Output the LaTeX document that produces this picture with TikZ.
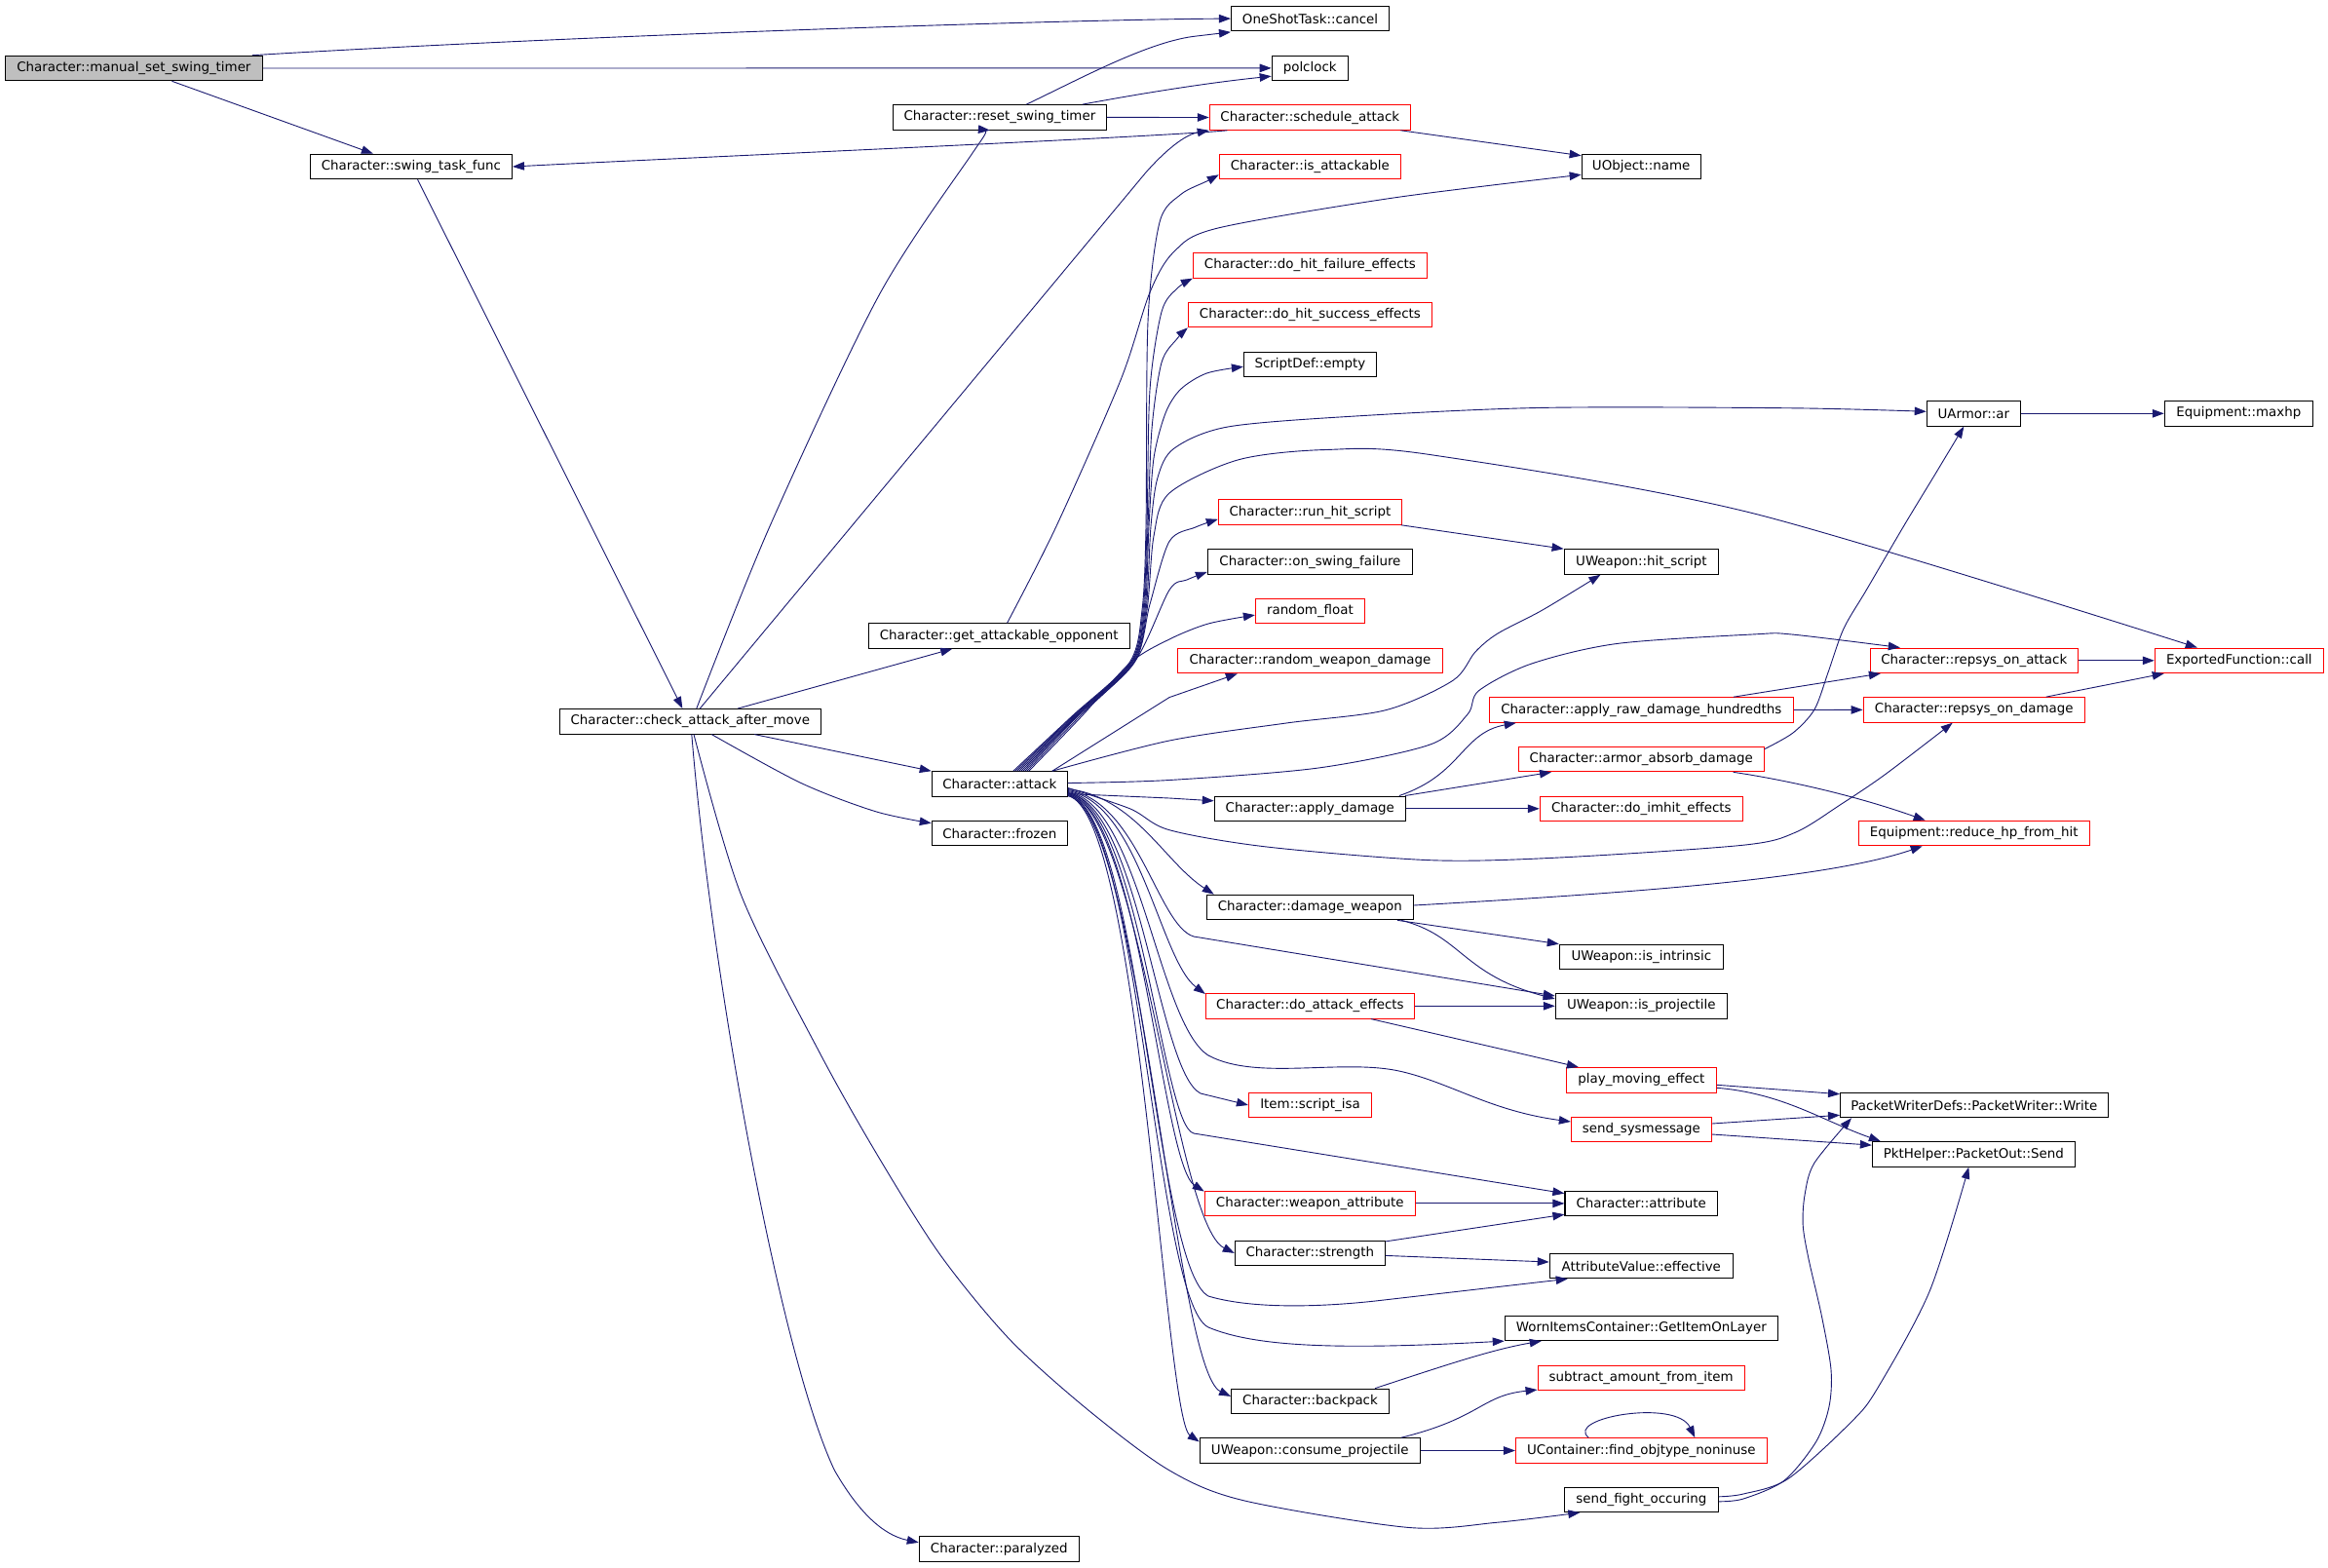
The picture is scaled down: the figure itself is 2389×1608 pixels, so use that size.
\documentclass[tikz,border=0pt]{standalone}
\usepackage{fontspec}
\setmainfont{DejaVu Sans}
\usetikzlibrary{arrows.meta}
\definecolor{edgec}{HTML}{191970}
\definecolor{grayfill}{HTML}{BFBFBF}
\newcommand{\nfont}{\fontsize{13.4}{16}\selectfont}
\tikzset{
  fn/.style={draw=black, line width=1.1pt, fill=white, minimum height=25.5pt, inner sep=0pt, font=\nfont, text=black},
  fnr/.style={fn, draw=red},
  fng/.style={fn, fill=grayfill},
  e/.style={draw=edgec, line width=0.9pt, -{Triangle[length=12pt,width=8.5pt]}},
  sm/.style={smooth, tension=0.5},
}
\begin{document}
\begin{tikzpicture}[x=1pt,y=-1pt]
\fill[white] (0,0) rectangle (2389,1608);
\useasboundingbox (0,0) rectangle (2389,1608);
% ---------------- nodes
\node[fng, minimum width=264pt] (M) at (137.4,70) {Character::manual\_set\_swing\_timer};
\node[fn, minimum width=207pt] (T) at (421.9,171) {Character::swing\_task\_func};
\node[fn, minimum width=268pt] (C) at (708.3,740.3) {Character::check\_attack\_after\_move};
\node[fn, minimum width=219pt] (R) at (1025.9,120.4) {Character::reset\_swing\_timer};
\node[fn, minimum width=268pt] (G) at (1025.2,652.5) {Character::get\_attackable\_opponent};
\node[fn, minimum width=139pt] (A) at (1025.8,804.5) {Character::attack};
\node[fn, minimum width=139pt] (F) at (1025.8,855) {Character::frozen};
\node[fn, minimum width=164pt] (P) at (1025.3,1589.5) {Character::paralyzed};
\node[fn, minimum width=162pt] (cancel) at (1344.5,19.1) {OneShotTask::cancel};
\node[fn, minimum width=78pt] (polclock) at (1344.2,69.9) {polclock};
\node[fnr, minimum width=206pt] (S) at (1344.3,120.5) {Character::schedule\_attack};
\node[fnr, minimum width=186pt] (isatt) at (1344.3,171) {Character::is\_attackable};
\node[fnr, minimum width=240pt] (hfail) at (1344.4,272.4) {Character::do\_hit\_failure\_effects};
\node[fnr, minimum width=250pt] (hsucc) at (1344.4,323) {Character::do\_hit\_success\_effects};
\node[fn, minimum width=136pt] (sempty) at (1344.4,374) {ScriptDef::empty};
\node[fnr, minimum width=188pt] (runhit) at (1344.4,525.5) {Character::run\_hit\_script};
\node[fn, minimum width=210pt] (onswing) at (1344.4,576.5) {Character::on\_swing\_failure};
\node[fnr, minimum width=112pt] (rfloat) at (1344.4,626.8) {random\_float};
\node[fnr, minimum width=272pt] (rwd) at (1344.4,678) {Character::random\_weapon\_damage};
\node[fn, minimum width=196pt] (applyd) at (1344.3,829.8) {Character::apply\_damage};
\node[fn, minimum width=212pt] (dmgw) at (1344.3,931) {Character::damage\_weapon};
\node[fnr, minimum width=214pt] (attfx) at (1344.4,1032.3) {Character::do\_attack\_effects};
\node[fnr, minimum width=126pt] (isa) at (1344.5,1134) {Item::script\_isa};
\node[fnr, minimum width=216pt] (wattr) at (1344.3,1234.9) {Character::weapon\_attribute};
\node[fn, minimum width=154pt] (str) at (1344.3,1285.9) {Character::strength};
\node[fn, minimum width=162pt] (bpack) at (1344.5,1437.9) {Character::backpack};
\node[fn, minimum width=226pt] (consume) at (1344.3,1488.5) {UWeapon::consume\_projectile};
\node[fn, minimum width=122pt] (uname) at (1684.2,171) {UObject::name};
\node[fn, minimum width=158.5pt] (hitscr) at (1684.4,576.5) {UWeapon::hit\_script};
\node[fnr, minimum width=312pt] (raw) at (1684.3,728.5) {Character::apply\_raw\_damage\_hundredths};
\node[fnr, minimum width=251.5pt] (absorb) at (1684.3,779) {Character::armor\_absorb\_damage};
\node[fnr, minimum width=208pt] (imhit) at (1684.3,829.8) {Character::do\_imhit\_effects};
\node[fn, minimum width=168pt] (intr) at (1684.3,982) {UWeapon::is\_intrinsic};
\node[fn, minimum width=176pt] (proj) at (1684.3,1032.3) {UWeapon::is\_projectile};
\node[fnr, minimum width=154pt] (pme) at (1684.4,1108.3) {play\_moving\_effect};
\node[fnr, minimum width=144pt] (sysm) at (1684.4,1159) {send\_sysmessage};
\node[fn, minimum width=156.5pt] (cattr) at (1684.2,1234.9) {Character::attribute};
\node[fn, minimum width=188pt] (eff) at (1684.3,1299) {AttributeValue::effective};
\node[fn, minimum width=280pt] (worn) at (1684.3,1362.8) {WornItemsContainer::GetItemOnLayer};
\node[fnr, minimum width=212pt] (sub) at (1684.1,1413.8) {subtract\_amount\_from\_item};
\node[fnr, minimum width=257.6pt] (find) at (1684.3,1488.5) {UContainer::find\_objtype\_noninuse};
\node[fn, minimum width=158pt] (sfo) at (1684.3,1538.8) {send\_fight\_occuring};
\node[fn, minimum width=96pt] (uar) at (2025.3,424.3) {UArmor::ar};
\node[fnr, minimum width=212.7pt] (rpa) at (2025.8,677.8) {Character::repsys\_on\_attack};
\node[fnr, minimum width=227pt] (rpd) at (2025.7,728.4) {Character::repsys\_on\_damage};
\node[fnr, minimum width=237pt] (redhp) at (2025.7,855) {Equipment::reduce\_hp\_from\_hit};
\node[fn, minimum width=274.7pt] (write) at (2025.9,1134) {PacketWriterDefs::PacketWriter::Write};
\node[fn, minimum width=207.8pt] (send) at (2025.3,1184.4) {PktHelper::PacketOut::Send};
\node[fn, minimum width=152pt] (maxhp) at (2297.3,424.3) {Equipment::maxhp};
\node[fnr, minimum width=173pt] (call) at (2297.8,677.8) {ExportedFunction::call};
% ---------------- edges: left part
\draw[e] ([xshift=-11pt]M.north east) .. controls (600,36) and (1100,20) .. (cancel.west);
\draw[e] (M.east) -- (polclock.west);
\draw[e] ([xshift=39pt]M.south) -- ([xshift=-39pt]T.north);
\draw[e] ([xshift=6.7pt]T.south) -- ([xshift=-8pt]C.north);
\draw[e] ([xshift=-85pt]S.south) .. controls (1200,140) and (700,162) .. (T.east);
\draw[e] ([xshift=27.5pt]R.north) .. controls (1110,80) and (1180,42) .. (1228,37) -- ([yshift=-0.5pt]cancel.south west);
\draw[e] ([xshift=85pt]R.north) .. controls (1160,98) and (1230,86) .. ([yshift=5pt]polclock.south west);
\draw[e] (R.east) -- (S.west);
\draw[e] ([xshift=93pt]S.south) -- ([yshift=-2pt]uname.north west);
\draw[e] plot[sm] coordinates {([xshift=6.5pt]C.north) (790,540) (902,303) (998,157) ([xshift=-10pt]R.south)};
\draw[e] ([xshift=10pt]C.north) -- (1175,178) .. controls (1188,163) and (1212,139) .. (S.south west);
\draw[e] ([xshift=49pt]C.north) -- ([xshift=-48pt]G.south);
\draw[e] ([xshift=66pt]C.south) -- (A.north west);
\draw[e] plot[sm] coordinates {([xshift=22pt]C.south) (822,803.5) (898.5,832.7) ([yshift=-3pt]F.north west)};
\draw[e] ([xshift=1.5pt]C.south) .. controls (730,1000) and (800,1390) .. (856.4,1508.8) .. controls (880,1550) and (905,1575) .. ([yshift=-6.6pt]P.north west);
\draw[e] plot[sm] coordinates {([xshift=3.7pt]C.south) (760.7,918.8) (841,1080) (902.3,1188.5) (965.4,1288.4) (1036.2,1374.5) (1116.6,1446.8) (1200,1508.8) (1276.5,1539.8) (1445,1567.4) (1536.7,1562.2) ([xshift=-63pt]sfo.south)};
\draw[e] plot[sm] coordinates {([xshift=8.4pt]G.north) (1084,540) (1150,390) (1180,300) (1205,258) (1250,234) (1430,203) ([yshift=5pt]uname.south west)};
% ---------------- attack: upper bundle
\draw[e] plot[sm] coordinates {([xshift=14pt]A.north) (1100,735) (1159,680) (1172,626) (1176,540) (1178,330) (1190,228) (1211.5,199.7) (1238.3,186) ([yshift=5pt]isatt.south west)};
\draw[e] plot[sm] coordinates {([xshift=16pt]A.north) (1101,735) (1160,680) (1173,626) (1177,540) (1180,400) (1192,320) (1207.7,296.2) (hfail.south west)};
\draw[e] plot[sm] coordinates {([xshift=18pt]A.north) (1102,735) (1161,680) (1174,626) (1178,540) (1182,440) (1192,372) (1207.7,347.8) (hsucc.south west)};
\draw[e] plot[sm] coordinates {([xshift=20pt]A.north) (1103,735) (1161,680) (1175,626) (1179,540) (1184,470) (1196,424) (1211.5,399.5) (1238.3,383) ([yshift=11pt]sempty.south west)};
\draw[e] plot[sm] coordinates {([xshift=22pt]A.north) (1104,735) (1162,680) (1176,626) (1181,540) (1188,490) (1205,460) (1260,438) (1391,427) (1583,418.4) (1839,418.8) ([yshift=2pt]uar.west)};
\draw[e] plot[sm] coordinates {([xshift=24pt]A.north) (1105,735) (1163,680) (1177,626) (1184,550) (1200,506) (1270.8,471.8) (1360.7,461.5) (1467.9,466.6) (1800,527) ([xshift=-43pt]call.north)};
\draw[e] plot[sm] coordinates {([xshift=26pt]A.north) (1106,735) (1164,680) (1180,620) (1200,555.5) (1226.8,541) ([yshift=6pt]runhit.south west)};
\draw[e] plot[sm] coordinates {([xshift=28pt]A.north) (1108,735) (1165,678) (1200,605.4) (1218,595) ([yshift=3pt]onswing.south west)};
\draw[e] plot[sm] coordinates {([xshift=30pt]A.north) (1110,735) (1160,680) (1200,656) (1240,640) ([yshift=9pt]rfloat.south west)};
\draw[e] ([xshift=54pt]A.north) -- (1200,715.6) -- ([xshift=62pt]rwd.south west);
\draw[e] plot[sm] coordinates {([xshift=54pt]A.north) (1200,760) (1320,742) (1422,728.7) (1490.8,698.4) (1513.8,669.1) (1536.7,650.2) (1582.7,626.1) ([xshift=-42pt]hitscr.south)};
% ---------------- attack: right / lower bundle
\draw[e] plot[sm] coordinates {([yshift=1pt]A.east) (1200,800.5) (1353,788) (1467.9,763.9) (1506.1,732.9) (1517.6,708.7) (1571.2,681.2) (1659.2,660.5) (1800,650.9) (1838.7,651) ([xshift=-76pt]rpa.north)};
\draw[e] ([yshift=-10pt]A.east) -- (1200,819) -- ([yshift=8pt]applyd.west);
\draw[e] plot[sm] coordinates {([yshift=-4pt]A.east) (1160,830) (1200,851.7) (1300,869) (1467.9,882.7) (1600,880) (1789,867.2) (1842.6,854.1) (1888.5,825.8) (1934.4,794.8) ([xshift=-22pt]rpd.south)};
\draw[e] ([yshift=-5pt]A.east) .. controls (1165,818) and (1195,885) .. ([xshift=8pt]dmgw.north west);
\draw[e] ([yshift=-6pt]A.east) .. controls (1168,822) and (1188,950) .. (1225,961) -- ([yshift=-3pt]proj.north west);
\draw[e] ([yshift=-7pt]A.east) .. controls (1170,824) and (1190,985) .. ([yshift=-1pt]attfx.north west);
\draw[e] ([yshift=-8pt]A.east) .. controls (1170,825) and (1188,1050) .. (1240,1083) .. controls (1290,1110) and (1380,1085) .. (1440,1100) .. controls (1490,1112) and (1530,1140) .. ([yshift=8pt]sysm.west);
\draw[e] ([yshift=-9pt]A.east) .. controls (1170,826) and (1188,1100) .. (1232,1122) -- (isa.west);
\draw[e] ([yshift=-9pt]A.east) .. controls (1170,827) and (1192,1155) .. (1225,1163) -- ([yshift=-3pt]cattr.north west);
\draw[e] ([yshift=-10pt]A.east) .. controls (1170,828) and (1192,1195) .. ([yshift=-1pt]wattr.north west);
\draw[e] ([yshift=-10pt]A.east) .. controls (1170,829) and (1205,1255) .. (str.west);
\draw[e] ([yshift=-11pt]A.east) .. controls (1170,830) and (1185,1300) .. (1240,1330) .. controls (1290,1345) and (1370,1340) .. (1420,1334) -- ([xshift=19pt]eff.south west);
\draw[e] ([yshift=-11pt]A.east) .. controls (1170,831) and (1185,1335) .. (1240,1362) .. controls (1290,1383) and (1380,1385) .. (worn.south west);
\draw[e] ([yshift=-12pt]A.east) .. controls (1170,832) and (1205,1405) .. ([yshift=5pt]bpack.west);
\draw[e] ([yshift=-12pt]A.east) .. controls (1170,833) and (1195,1455) .. ([yshift=9pt]consume.west);
% ---------------- other edges
\draw[e] ([xshift=-1pt]runhit.south east) -- (hitscr.north west);
\draw[e] ([xshift=-7pt]applyd.north east) .. controls (1500,795) and (1500,752) .. ([xshift=28pt]raw.south west);
\draw[e] ([xshift=-1pt]applyd.north east) -- ([xshift=34pt]absorb.south west);
\draw[e] (applyd.east) -- (imhit.west);
\draw[e] ([xshift=-17pt]dmgw.south east) -- (intr.north west);
\draw[e] ([xshift=-13pt]dmgw.south east) .. controls (1500,960) and (1500,1000) .. ([yshift=-6pt]proj.north west);
\draw[e] ([yshift=2pt]dmgw.east) .. controls (1700,915) and (1880,900) .. ([xshift=-53pt]redhp.south);
\draw[e] (attfx.east) -- (proj.west);
\draw[e] ([xshift=-45pt]attfx.south east) -- (1555.9,1080) -- ([xshift=13pt]pme.north west);
\draw[e] ([xshift=-62pt]raw.north east) -- ([xshift=11pt]rpa.south west);
\draw[e] (raw.east) -- (rpd.west);
\draw[e] plot[sm] coordinates {([yshift=-3pt]absorb.north east) (1840,752) (1862,728) (1876,690) (1892,645) (1915.3,605.4) (1953.5,540) (1985,488) ([xshift=-10pt]uar.south)};
\draw[e] ([xshift=-32pt]absorb.south east) .. controls (1830,800) and (1900,815) .. ([xshift=-50pt]redhp.north);
\draw[e] (rpa.east) -- (call.west);
\draw[e] ([xshift=-40pt]rpd.north east) -- ([xshift=10pt]call.south west);
\draw[e] (uar.east) -- (maxhp.west);
\draw[e] ([yshift=-5pt]pme.east) -- ([yshift=-2pt]write.north west);
\draw[e] ([yshift=-8pt]pme.east) .. controls (1830,1122) and (1870,1150) .. ([xshift=9pt]send.north west);
\draw[e] ([yshift=6pt]sysm.east) -- ([yshift=3pt]write.south west);
\draw[e] ([yshift=-5pt]sysm.east) -- ([yshift=-4pt]send.north west);
\draw[e] (wattr.east) -- (cattr.west);
\draw[e] ([yshift=12pt]str.east) -- ([yshift=2pt]cattr.south west);
\draw[e] ([yshift=-2.5pt]str.east) -- ([yshift=4pt]eff.west);
\draw[e] ([xshift=-15pt]bpack.north east) .. controls (1480,1402) and (1530,1385) .. ([xshift=38pt]worn.south west);
\draw[e] ([xshift=-20pt]consume.north east) .. controls (1520,1455) and (1520,1432) .. ([yshift=1pt]sub.south west);
\draw[e] (consume.east) -- (find.west);
\draw[e] ([xshift=-54pt]find.north) .. controls (1605,1455) and (1720,1435) .. ([xshift=55pt]find.north);
\draw[e] plot[sm] coordinates {([yshift=-2pt]sfo.east) (1789,1538) (1831,1519.2) (1863.6,1479.5) (1877,1443.4) (1879,1405.5) (1869.4,1350.4) (1856,1291.9) (1850.2,1257.4) (1852,1226.4) (1861.7,1193.7) ([xshift=12pt]write.south west)};
\draw[e] plot[sm] coordinates {([yshift=3pt]sfo.east) (1789,1533) (1835,1517.4) (1900,1458.9) (1926.8,1424.4) (1980.3,1324.6) ([xshift=-5pt]send.south)};
\end{tikzpicture}
\end{document}
